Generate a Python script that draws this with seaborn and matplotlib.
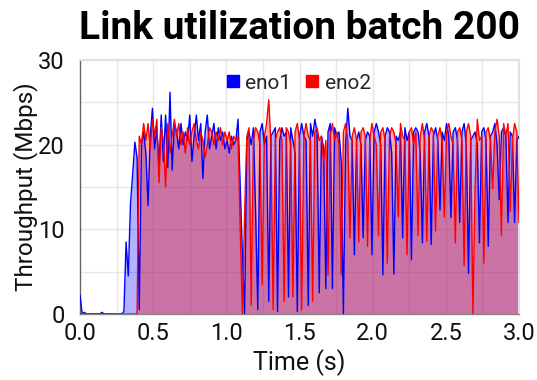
import numpy as np
import pandas as pd
import matplotlib
matplotlib.use("Agg")
import matplotlib.pyplot as plt
from matplotlib.lines import Line2D
from matplotlib.ticker import MultipleLocator
import seaborn as sns

# ---- data (sampled every 0.015 s from 0 to 3.0 s) ----
n_samples = 201
time_s = np.round(np.arange(n_samples) * 0.015, 3)

eno1 = [
    2.2, 0, 0.2, 0, 0, 0, 0, 0, 0, 0, 0.2, 0, 0, 0, 0, 0, 0, 0, 0, 0,
    0.3, 8.5, 4.5, 13, 16.5, 20.3, 18.5, 0.5, 20, 21.5, 19, 12.8, 21, 24.3, 19.5, 22, 17.5, 23.5, 18, 23.5,
    17.3, 26.2, 17, 22.5, 21.5, 19.5, 22.5, 20, 21.5, 20.5, 23.5, 18, 21, 23.5, 20.5, 22.5, 16, 21.5, 23.5, 19.5,
    21, 22.5, 19.5, 22, 20.5, 21.5, 19.5, 20.5, 19, 21, 20, 20.5, 23, 15, 7, 0, 20.5, 21.5, 20, 22,
    12, 0.5, 21.5, 22.5, 20, 21, 1.5, 21, 21.5, 22, 0.3, 20.5, 22, 21, 21.5, 2, 22, 20.5, 19, 0.3,
    21, 22.5, 21, 20.5, 1, 22.5, 21, 23, 21.5, 2.5, 21, 19.5, 3, 21.5, 22.5, 3, 22, 21, 21.5, 18,
    0, 20, 24.3, 21, 20.5, 7, 20.5, 21.5, 20, 9, 20.5, 21.5, 21, 7, 21.5, 22.5, 21.5, 20, 4.6, 21,
    22, 21.5, 19, 4.7, 21, 20.5, 21.5, 9, 22, 20.5, 21.5, 6.4, 21.5, 22, 21.5, 19, 8.4, 21.5, 22.5, 21,
    8.2, 21, 22, 20.5, 12.3, 21.5, 20.5, 22.5, 21, 11.4, 21.5, 22, 20.5, 10.8, 21.5, 22.5, 20, 4.8, 20.5, 21,
    21.5, 20, 8.4, 21.5, 22, 20.5, 8, 21, 21.5, 22.5, 20, 13.5, 21.5, 22, 21, 10.8, 21.5, 21, 10.8, 20.5,
    21,
]

eno2 = [
    0, 0, 0, 0, 0, 0, 0, 0, 0, 0, 0, 0, 0, 0, 0, 0, 0, 0, 0, 0,
    0, 0, 0, 0, 0, 0, 0, 21, 20, 22.5, 20.5, 22.5, 19.5, 23, 21, 23, 15.5, 22, 20.5, 15,
    22.5, 19, 21, 23, 21, 22.5, 20, 21.5, 19, 22, 20, 21.5, 22.5, 20.5, 19.5, 21.5, 20.5, 18.5, 20, 22,
    21.5, 20, 21.5, 20.5, 22, 20, 21.5, 20.5, 21.5, 19.5, 21, 20.5, 21, 10, 0, 12, 21, 22, 1, 20.5,
    22, 21.5, 20, 3.5, 21, 22.5, 25.3, 20, 0.5, 20.5, 21.5, 22, 20.5, 1.5, 22, 21.5, 20, 2, 21.5, 22.5,
    20.5, 0.5, 21, 22.5, 21, 20.5, 1.5, 21.5, 22, 20.5, 21, 18, 20.5, 4.6, 21, 22.5, 20.5, 21.5, 20, 4.6,
    21.5, 22.5, 20.5, 9, 21, 22, 20.5, 8.5, 21.5, 22, 21, 8, 20.5, 22.5, 21, 20, 9.2, 21.5, 22, 20.5,
    6, 21, 22, 21.5, 20, 11.5, 22.5, 21, 20.5, 7, 21.5, 22, 20, 21.5, 9.3, 21, 22.5, 20.5, 8.6, 21,
    22, 21.5, 9.8, 21, 22, 20.5, 11.4, 21.5, 22.5, 21, 20, 8.4, 21.5, 22, 20.5, 5.7, 21.5, 22.5, 21, 0,
    15, 23, 20.5, 21, 6, 21.5, 22, 20.5, 14.8, 21.5, 23, 21, 9.3, 22.5, 21, 22.5, 12.1, 20.5, 22.5, 21.5,
    10.8,
]

series_names = ["eno1", "eno2"]
series_colors = ["#0000ff", "#ff0000"]
x_ticks = [0.0, 0.5, 1.0, 1.5, 2.0, 2.5, 3.0]
y_ticks = [0, 10, 20, 30]

df = pd.DataFrame({"Time": time_s, "eno1": eno1, "eno2": eno2})
long_df = df.melt(id_vars="Time", var_name="iface", value_name="Mbps")

# ---- figure ----
sns.set_theme(style="white")
plt.rcParams["font.family"] = ["Roboto", "DejaVu Sans"]

fig = plt.figure(figsize=(5.37, 3.80), dpi=100)
ax = fig.add_axes([80 / 537, 1 - 314 / 380, 439 / 537, 254 / 380])

fill_alphas = [0.3, 0.35]
for name, col, a in zip(series_names, series_colors, fill_alphas):
    ax.fill_between(df["Time"], 0, df[name], color=col, alpha=a, linewidth=0, zorder=2)

sns.lineplot(data=long_df, x="Time", y="Mbps", hue="iface",
             palette=dict(zip(series_names, series_colors)),
             linewidth=1.0, ax=ax, legend=False, zorder=3)

ax.set_xlim(0, 3.0)
ax.set_ylim(0, 30)
ax.set_xticks(x_ticks)
ax.set_xticklabels([f"{v:.1f}" for v in x_ticks])
ax.set_yticks(y_ticks)
ax.xaxis.set_minor_locator(MultipleLocator(0.25))
ax.yaxis.set_minor_locator(MultipleLocator(5))
ax.grid(True, which="both", color="#e6e6e6", linewidth=1.0, zorder=0)
ax.set_axisbelow(True)
ax.tick_params(axis="both", which="both", length=0, labelsize=17, colors="#111111")
ax.tick_params(axis="x", pad=6)
ax.tick_params(axis="y", pad=11)

ax.set_xlabel("Time (s)", fontsize=18, labelpad=3, color="#111111")
ax.set_ylabel("Throughput (Mbps)", fontsize=17.5, labelpad=0, color="#111111")
ax.set_title("Link utilization batch 200", fontsize=28, fontweight="bold", pad=15, color="#000000")

for side in ["top", "right"]:
    ax.spines[side].set_color("#e0e0e0")
    ax.spines[side].set_linewidth(1.5)
ax.spines["left"].set_color("#666666")
ax.spines["left"].set_linewidth(1.0)
ax.spines["bottom"].set_color("#888888")
ax.spines["bottom"].set_linewidth(1.0)

handles = [Line2D([0], [0], marker="s", linestyle="none", markersize=9,
                  markerfacecolor=c, markeredgecolor=c) for c in series_colors]
ax.legend(handles, series_names, loc="upper center", bbox_to_anchor=(0.495, 1.02),
          ncol=2, frameon=False, fontsize=15, handletextpad=0.15, columnspacing=0.55,
          handlelength=0.9)

fig.savefig("out.png", dpi=100)
